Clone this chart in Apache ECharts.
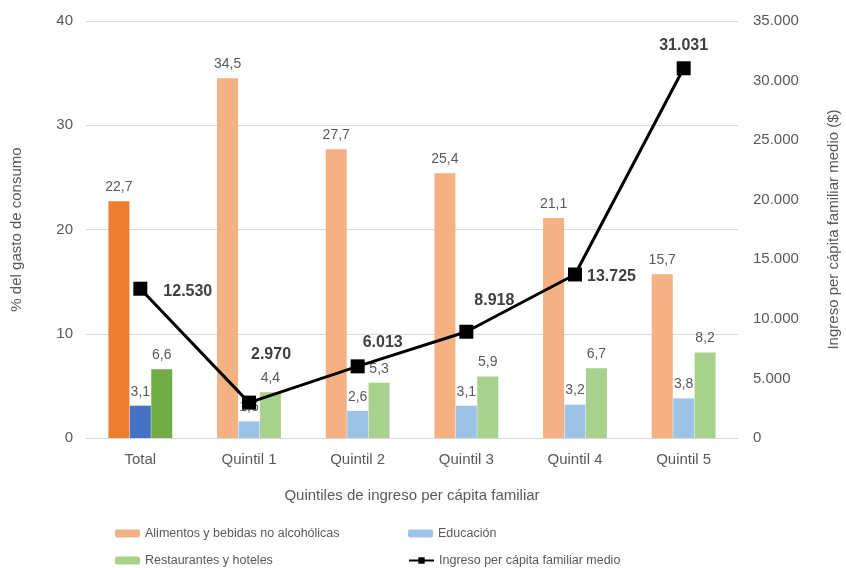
<!DOCTYPE html>
<html lang="es">
<head>
<meta charset="UTF-8">
<script src="https://cdn.jsdelivr.net/npm/echarts@6/dist/echarts.min.js"></script>
<style>
  html, body { margin: 0; padding: 0; background: #fff; }
  #main { width: 846px; height: 568px; }
</style>
</head>
<body>
<div id="main"></div>
<script>
// datos
var categorias = ['Total', 'Quintil 1', 'Quintil 2', 'Quintil 3', 'Quintil 4', 'Quintil 5'];
var alimentos = [22.7, 34.5, 27.7, 25.4, 21.1, 15.7];
var educacion = [3.1, 1.6, 2.6, 3.1, 3.2, 3.8];
var restaurantes = [6.6, 4.4, 5.3, 5.9, 6.7, 8.2];
var ingreso = [12530, 2970, 6013, 8918, 13725, 31031];

// posicion de las etiquetas de la linea (solo estilo)
var offsetsLinea = [[11, 3], [-10, -48], [-7, -24], [-4, -31], [0, 2], null];

var font = 'Liberation Sans, Arial, sans-serif';
var gris = '#595959';

function coma(v) { return String(v).replace('.', ','); }
function miles(v) { return String(v).replace(/\B(?=(\d{3})+(?!\d))/g, '.'); }

// la barra "Total" va en color oscuro
function barras(valores, oscuro) {
    return valores.map(function (v, i) {
        return i === 0 ? { value: v, itemStyle: { color: oscuro } } : v;
    });
}

var datosLinea = ingreso.map(function (v, i) {
    var o = offsetsLinea[i];
    if (o) {
        return { value: v, label: { position: 'right', distance: 5, offset: o } };
    }
    return { value: v, label: { position: 'top', distance: 8 } };
});

// una leyenda por elemento, en dos columnas
function leyenda(nombre, x, y) {
    return {
        left: x,
        top: y,
        padding: 0,
        itemWidth: 25,
        itemHeight: 8,
        textStyle: { color: gris, fontSize: 12.5, fontFamily: font },
        data: [nombre]
    };
}

var myChart = echarts.init(document.getElementById('main'));

var labelBarra = {
    show: true,
    position: 'top',
    distance: 7,
    color: gris,
    fontFamily: font,
    fontSize: 14,
    formatter: function (p) { return coma(p.value); }
};

var option = {
    animation: false,
    textStyle: { fontFamily: font },
    grid: { left: 86, right: 108, top: 21, bottom: 130, outerBoundsMode: 'none', containLabel: false },
    legend: [
        leyenda('Alimentos y bebidas no alcohólicas', 115, 527),
        leyenda('Restaurantes y hoteles', 115, 554),
        leyenda('Educación', 408, 527),
        leyenda('Ingreso per cápita familiar medio', 408, 554)
    ],
    xAxis: {
        type: 'category',
        data: categorias,
        name: 'Quintiles de ingreso per cápita familiar',
        nameLocation: 'middle',
        nameGap: 50,
        nameTextStyle: { color: gris, fontSize: 15 },
        axisLine: { lineStyle: { color: '#d9d9d9', width: 1 } },
        axisTick: { show: false },
        axisLabel: { color: gris, fontSize: 15, margin: 14 }
    },
    yAxis: [
        {
            type: 'value',
            min: 0,
            max: 40,
            interval: 10,
            name: '% del gasto de consumo',
            nameLocation: 'middle',
            nameRotate: 90,
            nameGap: 62,
            nameTextStyle: { color: gris, fontSize: 15 },
            axisLabel: { color: gris, fontSize: 15, margin: 13 },
            axisLine: { show: false },
            axisTick: { show: false },
            splitLine: { lineStyle: { color: '#d9d9d9' } }
        },
        {
            type: 'value',
            min: 0,
            max: 35000,
            interval: 5000,
            position: 'right',
            name: 'Ingreso per cápita familiar medio ($)',
            nameLocation: 'middle',
            nameRotate: 90,
            nameGap: 88,
            nameTextStyle: { color: gris, fontSize: 15 },
            axisLabel: { color: gris, fontSize: 15, margin: 15, formatter: miles },
            axisLine: { show: false },
            axisTick: { show: false },
            splitLine: { show: false }
        }
    ],
    series: [
        {
            name: 'Alimentos y bebidas no alcohólicas',
            type: 'bar',
            barWidth: 21,
            barGap: '2%',
            itemStyle: { color: '#F4B183' },
            label: labelBarra,
            data: barras(alimentos, '#ED7D31')
        },
        {
            name: 'Educación',
            type: 'bar',
            barWidth: 21,
            barGap: '2%',
            itemStyle: { color: '#9DC3E6' },
            label: labelBarra,
            data: barras(educacion, '#4472C4')
        },
        {
            name: 'Restaurantes y hoteles',
            type: 'bar',
            barWidth: 21,
            barGap: '2%',
            itemStyle: { color: '#A9D18E' },
            label: labelBarra,
            data: barras(restaurantes, '#70AD47')
        },
        {
            name: 'Ingreso per cápita familiar medio',
            type: 'line',
            yAxisIndex: 1,
            z: 5,
            symbol: 'rect',
            symbolSize: 14,
            itemStyle: { color: '#000' },
            lineStyle: { color: '#000', width: 3 },
            label: {
                show: true,
                color: '#404040',
                fontWeight: 'bold',
                fontSize: 16,
                fontFamily: font,
                formatter: function (p) { return miles(p.value); }
            },
            data: datosLinea
        }
    ]
};

myChart.setOption(option);
</script>
</body>
</html>
